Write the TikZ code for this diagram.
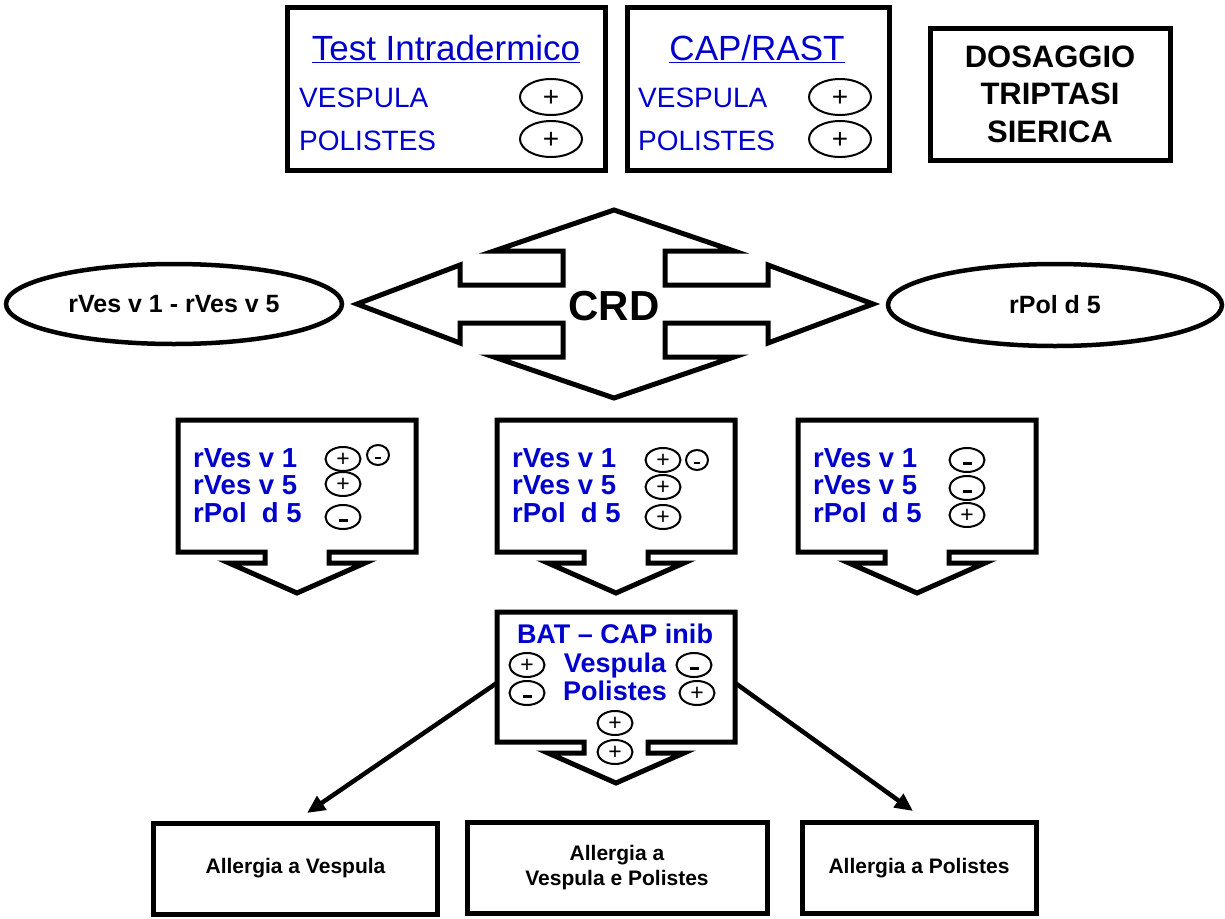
\documentclass[tikz,border=0pt]{standalone}
\usepackage{fontspec}
\setmainfont{Liberation Sans}
\usetikzlibrary{shapes.geometric,arrows.meta}
\definecolor{txtblue}{RGB}{0,0,204}

\newcommand{\callout}[3]{%
  \draw[line width=5bp] (#1,#2) -- ++(238,0) -- ++(0,#3) -- ++(-87,0) -- ++(0,11) -- ++(36,0)
    -- ++(-68,30) -- ++(-68,-30) -- ++(36,0) -- ++(0,-11) -- ++(-87,0) -- cycle;
}
\newcommand{\msign}{\rule[2bp]{9bp}{3.5bp}}
\newcommand{\msmall}{\rule[3.5bp]{6bp}{2bp}}

\tikzset{
  frame/.style={draw, line width=5bp, inner sep=0pt},
  sgn/.style={draw, ellipse, line width=2bp, inner sep=0pt, minimum width=35bp, minimum height=24bp,
    text height=14bp, text depth=0bp, font=\fontsize{23bp}{23bp}\selectfont},
  topsgn/.style={sgn, minimum width=62bp, minimum height=36bp, text height=19bp,
    font=\fontsize{28bp}{28bp}\selectfont},
  smallsgn/.style={sgn, minimum width=22bp, minimum height=20bp},
  toptitle/.style={anchor=base, inner sep=0pt, text=txtblue, font=\fontsize{35bp}{35bp}\selectfont},
  toprow/.style={anchor=base west, inner sep=0pt, text=txtblue, font=\fontsize{28bp}{28bp}\selectfont},
  bluerow/.style={anchor=base west, inner sep=0pt, text=txtblue, font=\fontsize{27.5bp}{27.5bp}\selectfont\bfseries},
  batrow/.style={anchor=base, inner sep=0pt, text=txtblue, font=\fontsize{27bp}{27bp}\selectfont\bfseries},
  oval/.style={draw, ellipse, line width=4.5bp, inner sep=0pt, font=\fontsize{25bp}{25bp}\selectfont\bfseries},
  result/.style={frame, align=center, minimum height=91bp, font=\fontsize{21bp}{25bp}\selectfont\bfseries},
  conn/.style={line width=4.5bp, -{Triangle[length=18bp,width=16bp]}}
}

\begin{document}
\begin{tikzpicture}[x=1bp, y=-1bp]
    \useasboundingbox (0,0) rectangle (1225,919);

    % test boxes
    \node[frame, minimum width=318bp, minimum height=163bp] (tid) at (446,88.5) {};
    \node[toptitle] (tidtitle) at (446,60) {\underline{Test Intradermico}};
    \node[toprow] (tidves) at (299,107) {VESPULA};
    \node[toprow] (tidpol) at (299,150) {POLISTES};
    \node[topsgn] (tidsv) at (551,97) {+};
    \node[topsgn] (tidsp) at (551,139) {+};

    \node[frame, minimum width=262bp, minimum height=163bp] (cap) at (758,88.5) {};
    \node[toptitle] (captitle) at (757,60) {\underline{CAP/RAST}};
    \node[toprow] (capves) at (638,107) {VESPULA};
    \node[toprow] (cappol) at (638,150) {POLISTES};
    \node[topsgn] (capsv) at (840,97) {+};
    \node[topsgn] (capsp) at (840,139) {+};

    \node[frame, minimum width=240bp, minimum height=132bp, align=center,
        font=\fontsize{31bp}{37.5bp}\selectfont\bfseries] (tri) at (1050,94) {DOSAGGIO\\TRIPTASI\\SIERICA};

    % CRD
    \draw[line width=5bp] (614,210) -- (734,251) -- (665,251) -- (665,285) -- (768,285) -- (768,265)
        -- (873,304) -- (768,343) -- (768,323) -- (665,323) -- (665,357) -- (734,357) -- (614,398)
        -- (494,357) -- (563,357) -- (563,323) -- (460,323) -- (460,343) -- (357,304) -- (460,265)
        -- (460,285) -- (563,285) -- (563,251) -- (494,251) -- cycle;
    \node[font=\fontsize{42bp}{42bp}\selectfont\bfseries, inner sep=0pt] (crd) at (614,306) {CRD};

    \node[oval, minimum width=336bp, minimum height=80bp] (ves) at (174,304) {rVes v 1 - rVes v 5};
    \node[oval, minimum width=334bp, minimum height=82bp] (pol) at (1055,305) {rPol d 5};

    % recombinant allergens
    \foreach \x in {178,497,798}{
        \callout{\x}{420}{132}
    }
    \foreach \x/\n in {193/a,512/b,813/c}{
        \node[bluerow] (v1\n) at (\x,467) {rVes v 1};
        \node[bluerow] (v5\n) at (\x,494) {rVes v 5};
        \node[bluerow] (p5\n) at (\x,522) {rPol~ d 5};
    }
    \node[sgn] (sa1) at (343,459) {+};
    \node[smallsgn] (sa0) at (378,455) {\msmall};
    \node[sgn] (sa2) at (343,484) {+};
    \node[sgn] (sa3) at (343,517) {\msign};
    \node[sgn] (sb1) at (663,460) {+};
    \node[smallsgn] (sb0) at (697,460) {\msmall};
    \node[sgn] (sb2) at (663,487) {+};
    \node[sgn] (sb3) at (663,517) {+};
    \node[sgn] (sc1) at (967,460) {\msign};
    \node[sgn] (sc2) at (967,488) {\msign};
    \node[sgn] (sc3) at (967,515) {+};

    % BAT
    \callout{497}{612}{130}
    \node[minimum width=238bp, minimum height=130bp, inner sep=0pt] (bat) at (616,677) {};
    \node[batrow] (batt) at (615,643) {BAT – CAP inib};
    \node[batrow] (batv) at (615,672) {Vespula};
    \node[batrow] (batp) at (615,700) {Polistes};
    \node[sgn] (bl1) at (527,665) {+};
    \node[sgn] (bl2) at (527,693) {\msign};
    \node[sgn] (br1) at (694,665) {\msign};
    \node[sgn] (br2) at (697,693) {+};
    \node[sgn] (bc1) at (615,723) {+};
    \node[sgn] (bc2) at (615,752) {+};

    % diagnosis
    \node[result, minimum width=283bp] (allv) at (295.5,868.5) {Allergia a Vespula};
    \node[result, minimum width=300bp] (allvp) at (617,868) {Allergia a\\Vespula e Polistes};
    \node[result, minimum width=234bp] (allp) at (919,868) {Allergia a Polistes};

    \coordinate (tipv) at (307,813);
    \coordinate (tipp) at (913,811);
    \draw[conn] ([yshift=-6bp]bat.west) -- (tipv);
    \draw[conn] ([yshift=-6bp]bat.east) -- (tipp);
\end{tikzpicture}
\end{document}
